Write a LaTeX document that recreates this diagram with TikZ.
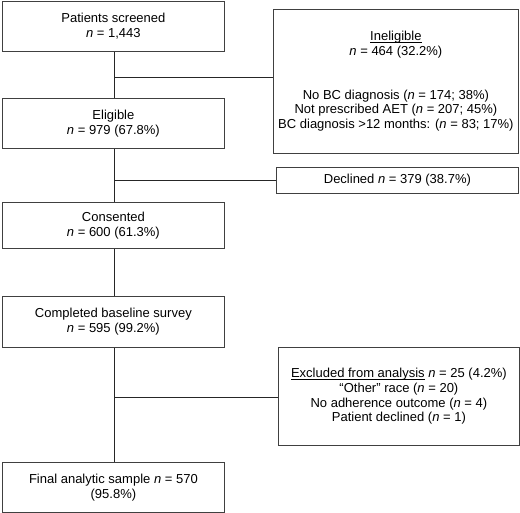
\documentclass[tikz,border=0pt]{standalone}
\usepackage{fontspec}
\setmainfont{Liberation Sans}
\newcommand{\myul}[1]{\begingroup\setbox0\hbox{#1}\rlap{\vrule width\wd0 height -1.3pt depth 2.1pt}\box0\endgroup}
\begin{document}
\begin{tikzpicture}[x=1pt,y=-1pt,
  box/.style={draw=black!75, line width=0.8pt, anchor=north west, inner sep=0pt, align=center,
    font=\fontsize{13}{14.6}\selectfont},
  conn/.style={draw=black!85, line width=0.9pt}]
\useasboundingbox (0,0) rectangle (520,513);
\newcommand{\nn}{\textit{n}}
\node[box, minimum width=222pt, minimum height=50pt] (scr) at (2,1) {Patients screened\\ \nn{} = 1,443};
\node[box, minimum width=222pt, minimum height=50pt] (eli) at (2,98) {Eligible\\ \nn{} = 979 (67.8\%)};
\node[box, minimum width=222pt, minimum height=46pt] (con) at (2,202) {Consented\\ \nn{} = 600 (61.3\%)};
\node[box, minimum width=222pt, minimum height=51pt] (bas) at (2,296) {Completed baseline survey\\ \nn{} = 595 (99.2\%)};
\node[box, minimum width=222pt, minimum height=50pt] (fin) at (2,462) {Final analytic sample \nn{} = 570\\ (95.8\%)};
\node[box, minimum width=245pt, minimum height=144pt] (ine) at (273,9) {\myul{Ineligible}\\ \nn{} = 464 (32.2\%)\\[14.6pt] \\ No BC diagnosis (\nn{} = 174; 38\%)\\ Not prescribed AET (\nn{} = 207; 45\%)\\ BC diagnosis {>}12 months: (\nn{} = 83; 17\%)};
\node[box, minimum width=242pt, minimum height=26pt] (dec) at (276,167) {Declined \nn{} = 379 (38.7\%)};
\node[box, minimum width=241pt, minimum height=98pt] (exc) at (278,347) {\myul{Excluded from analysis} \nn{} = 25 (4.2\%)\\ ``Other'' race (\nn{} = 20)\\ No adherence outcome (\nn{} = 4)\\ Patient declined (\nn{} = 1)};
\coordinate (j1) at (114,77);
\coordinate (j2) at (114,180);
\coordinate (j3) at (114,397);
\draw[conn] (scr.south -| j1) -- (eli.north -| j1);
\draw[conn] (eli.south -| j1) -- (con.north -| j1);
\draw[conn] (con.south -| j1) -- (bas.north -| j1);
\draw[conn] (bas.south -| j1) -- (fin.north -| j1);
\draw[conn] (j1) -- (j1 -| ine.west);
\draw[conn] (j2) -- (j2 -| dec.west);
\draw[conn] (j3) -- (j3 -| exc.west);
\end{tikzpicture}
\end{document}
